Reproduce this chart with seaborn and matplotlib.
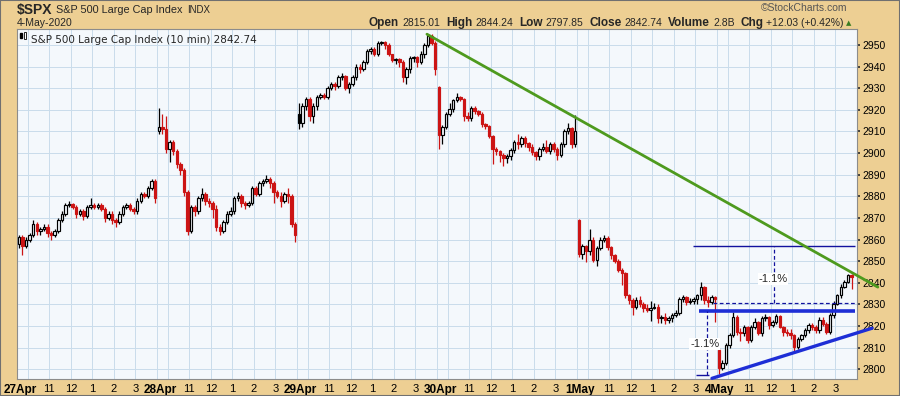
import numpy as np
import pandas as pd
import matplotlib
matplotlib.use("Agg")
import matplotlib.pyplot as plt
from matplotlib.patches import Rectangle
from matplotlib.transforms import ScaledTranslation
import seaborn as sns

# --- data (10 minute bars, 39 per session) ---
days = ["27Apr", "28Apr", "29Apr", "30Apr", "1May", "4May"]
hour_labels = ["11", "12", "1", "2", "3"]
day_open = [2858, 2910, 2918, 2930.5, 2869, 2809]

close_27 = [2861, 2857, 2860, 2862, 2867, 2864, 2865, 2866, 2863, 2862, 2864, 2869, 2872, 2876, 2876.5, 2875, 2872, 2873, 2871, 2875,
            2876, 2875, 2876, 2874, 2870, 2872, 2869, 2868, 2872, 2875, 2876, 2874, 2873, 2878, 2881, 2880, 2884, 2887, 2879]
high_27 = [2862, 2862, 2861, 2863, 2869, 2868, 2866, 2867, 2867, 2864, 2865, 2870, 2873, 2877, 2878, 2877, 2876, 2874, 2874, 2876,
           2879, 2877, 2877, 2877, 2875, 2873, 2873, 2870, 2873, 2876, 2877, 2877, 2875, 2879, 2882, 2882, 2885, 2888, 2888]
low_27 = [2856, 2853, 2856, 2859, 2861, 2862, 2862, 2864, 2861, 2860, 2861, 2863, 2868, 2871, 2875, 2874, 2870, 2871, 2869, 2870,
          2874, 2874, 2874, 2873, 2868, 2869, 2867, 2866, 2867, 2871, 2874, 2873, 2872, 2872, 2877, 2879, 2879, 2883, 2877]

close_28 = [2912, 2911, 2902, 2905, 2901, 2895, 2892, 2882, 2864, 2875, 2873, 2879, 2881, 2878, 2877, 2874, 2866, 2864, 2868, 2872,
            2873, 2879, 2880, 2877, 2876, 2877, 2884, 2881, 2886, 2887, 2888, 2886, 2882, 2880, 2878, 2881, 2880, 2867, 2862]
high_28 = [2921, 2918, 2917, 2906, 2906, 2902, 2896, 2893, 2883, 2876, 2876, 2880, 2884, 2882, 2879, 2878, 2876, 2867, 2869, 2873,
           2875, 2880, 2882, 2881, 2878, 2878, 2885, 2885, 2887, 2888, 2890, 2889, 2887, 2883, 2882, 2882, 2884, 2881, 2868]
low_28 = [2909, 2909, 2900, 2896, 2899, 2893, 2890, 2880, 2862, 2863, 2871, 2872, 2878, 2876, 2875, 2870, 2864, 2862, 2863, 2867,
          2871, 2872, 2878, 2875, 2874, 2875, 2876, 2880, 2880, 2885, 2886, 2884, 2877, 2879, 2875, 2877, 2877, 2866, 2859]

close_29 = [2914, 2922, 2925, 2917, 2922, 2926, 2927, 2926, 2930, 2932, 2931, 2935, 2935.5, 2930, 2932, 2935, 2940, 2939, 2942, 2947,
            2948, 2946, 2951, 2951.5, 2950, 2946, 2943, 2943.5, 2942, 2935, 2939, 2944, 2944.5, 2942, 2946, 2950, 2954, 2951, 2939]
high_29 = [2923, 2923, 2926, 2926, 2923, 2927, 2928, 2928, 2931, 2933, 2933, 2936, 2937, 2936, 2933, 2936, 2941, 2941, 2943, 2948,
           2949, 2949, 2952, 2952, 2952, 2951, 2946, 2944, 2944, 2943, 2940, 2945, 2945, 2945, 2947, 2951, 2955, 2955, 2952]
low_29 = [2911, 2912, 2920, 2915, 2914, 2920, 2925, 2925, 2925, 2929, 2929, 2930, 2934, 2929, 2928, 2931, 2934, 2937, 2938, 2941,
          2946, 2945, 2945, 2950, 2948, 2945, 2942, 2941, 2940, 2933, 2932, 2937, 2942, 2940, 2941, 2944, 2949, 2950, 2936]

close_30 = [2908.5, 2912, 2918, 2920.5, 2924.5, 2926, 2925, 2917, 2916, 2921, 2919.5, 2918, 2913.5, 2912.5, 2908, 2902, 2901, 2899, 2897.5, 2898.5,
            2901.5, 2905, 2904, 2907, 2904.5, 2903, 2900.5, 2898.5, 2902, 2903, 2901, 2904, 2902, 2899, 2904, 2910, 2911.5, 2904, 2910]
high_30 = [2931, 2913, 2919, 2923, 2925, 2928, 2926.5, 2925.5, 2919, 2922, 2922, 2920, 2919, 2914, 2913, 2908.5, 2903, 2901.5, 2900, 2899.5,
           2902.5, 2906, 2909, 2908, 2908, 2905, 2904, 2901, 2903, 2904.5, 2906, 2905, 2905, 2903, 2905, 2911, 2914, 2912, 2917.5]
low_30 = [2902, 2904, 2911, 2917, 2919, 2923.5, 2924, 2915, 2915, 2915, 2918, 2917, 2912, 2911, 2907, 2895, 2899, 2896, 2894, 2895.5,
          2897, 2900, 2902, 2903, 2903, 2901, 2899, 2897, 2897, 2901, 2900, 2899.5, 2900.5, 2897, 2898, 2903, 2909, 2902.5, 2903]

close_1 = [2853.5, 2857, 2854.5, 2860, 2850.5, 2856, 2859.7, 2860.5, 2856.6, 2852.8, 2850, 2846, 2844.5, 2834.3, 2832, 2829, 2832, 2830, 2828.5, 2827.5,
           2828.5, 2829, 2823.5, 2824, 2822.7, 2823.5, 2825, 2826, 2832.7, 2833.2, 2831, 2831.5, 2832.5, 2834.3, 2838, 2832, 2831, 2833.5, 2832.3]
high_1 = [2869.5, 2858, 2857.5, 2865, 2861, 2857, 2861, 2862, 2861.5, 2857, 2853.5, 2851, 2847, 2845, 2835, 2833, 2833.5, 2834, 2831, 2830,
          2831.5, 2830.5, 2830, 2825, 2826, 2824.5, 2826, 2827.5, 2833.5, 2834.5, 2834, 2833, 2833.5, 2835, 2840.5, 2838.5, 2834, 2834.5, 2834]
low_1 = [2852, 2851, 2849.5, 2853, 2849.5, 2848, 2855, 2859, 2855, 2851, 2849, 2845, 2839, 2833, 2830, 2825, 2828, 2829, 2826.5, 2826.5,
         2822.5, 2828, 2821.5, 2821.5, 2821, 2821.5, 2822, 2824, 2825, 2831, 2829.5, 2830, 2830, 2830, 2832, 2830, 2829, 2830, 2822]

close_4 = [2800.5, 2802.7, 2811, 2815.8, 2824.3, 2817.3, 2816.8, 2819.6, 2813.5, 2819.6, 2822, 2816.6, 2823.5, 2824, 2820.4, 2822, 2824.6, 2819.6, 2817.3, 2817,
           2815.8, 2810.4, 2814.2, 2815.8, 2818, 2820.4, 2819.5, 2818, 2823, 2821, 2817.3, 2825, 2830.4, 2834.3, 2838, 2840.5, 2843.6, 2842.74]
high_4 = [2810, 2804.5, 2812, 2817, 2826.5, 2825, 2819, 2820.5, 2820, 2820.5, 2823.5, 2822.5, 2824.5, 2825.5, 2824.5, 2823, 2825.5, 2825, 2820, 2818.5,
          2818.5, 2816.5, 2815, 2816.5, 2819, 2821.5, 2821.5, 2820.5, 2824, 2824, 2822, 2826, 2831.5, 2835, 2839.5, 2841.5, 2844.24, 2844]
low_4 = [2797.85, 2799.5, 2802, 2810, 2815, 2816, 2813, 2815.5, 2812, 2812.5, 2818.5, 2816, 2815.5, 2822.5, 2818.5, 2819.5, 2821, 2819, 2815.5, 2815.5,
         2814, 2808.5, 2809.5, 2813, 2815, 2817, 2818, 2817, 2817, 2820, 2816.5, 2816.5, 2823.5, 2829.5, 2833, 2837.5, 2840, 2837]

closes = [close_27, close_28, close_29, close_30, close_1, close_4]
highs = [high_27, high_28, high_29, high_30, high_1, high_4]
lows = [low_27, low_28, low_29, low_30, low_1, low_4]

# trend lines and measured move (bar index, price)
green_x, green_y = [113.7, 239.3], [2955, 2838]
support_x, support_y = [193.1, 237.7], [2795.8, 2819]
target_level, neck_level, base_level, mid_level = 2857, 2827, 2797.2, 2830.8
pct_labels = ["-1.1%", "-1.1%"]

BPD = 39
RED = "#CC1414"
TAN = "#EDCF93"
BG = "#F4F8FC"
GRID = "#C9DCEB"

rows = []
for d in range(len(days)):
    c = closes[d]
    o = [day_open[d]] + c[:-1]
    for k in range(len(c)):
        rows.append(dict(x=d * BPD + k, open=o[k], high=highs[d][k], low=lows[d][k], close=c[k]))
df = pd.DataFrame(rows)
df["prev"] = df["close"].shift(1).fillna(df["open"])

sns.set_theme(style="white", rc={"axes.facecolor": BG, "figure.facecolor": TAN})
plt.rcParams["font.family"] = ["Liberation Sans", "DejaVu Sans"]

fig = plt.figure(figsize=(9, 3.96), dpi=100, facecolor=TAN)
ax = fig.add_axes([17 / 900, 1 - 379 / 396, 840 / 900, 350 / 396])
ax.set_facecolor(BG)
renderer = fig.canvas.get_renderer()


def px(x, y):
    return x / 900, 1 - y / 396


def text_run(x, y, pieces, gap):
    # place text pieces one after another, starting at pixel x
    for txt, kw in pieces:
        t = fig.text(*px(x, y), txt, va="center", ha="left", **kw)
        x += t.get_window_extent(renderer).width + gap
    return x


# candles
for r in df.itertuples():
    col = RED if r.close < r.prev else "black"
    ax.vlines(r.x, r.low, r.high, color=col, lw=0.9, zorder=3)
    lo, hi = min(r.open, r.close), max(r.open, r.close)
    face = BG if r.close > r.open else col
    ax.bar(r.x, max(hi - lo, 0.35), bottom=lo, width=0.68, color=face,
           edgecolor=col, linewidth=0.85, zorder=4)

# trend lines
sns.lineplot(x=green_x, y=green_y, color="#4E9A1E", lw=2, ax=ax, clip_on=False, zorder=6)
sns.lineplot(x=support_x, y=support_y, color="#1E2ED6", lw=2.4, ax=ax, clip_on=False, zorder=6)

# measured move annotations
NAVY = "#12129E"
ax.hlines(target_level, 187.8, 232.9, color=NAVY, lw=1, zorder=5)
ax.hlines(neck_level, 189.5, 232.9, color="#1E2ED6", lw=2.6, zorder=5)
ax.hlines(base_level, 188.6, 192.2, color=NAVY, lw=1, zorder=5)
ax.hlines(mid_level, 193.4, 232.9, color=NAVY, lw=0.9, ls=(0, (3, 2)), zorder=5)
ax.vlines(210.4, mid_level, target_level, color=NAVY, lw=0.9, ls=(0, (3, 2)), zorder=5)
ax.vlines(191.7, base_level, neck_level, color=NAVY, lw=0.9, ls=(0, (3, 2)), zorder=5)
ax.text(210.1, 2841.8, pct_labels[0], fontsize=8, ha="center", va="center", zorder=7,
        bbox=dict(facecolor="white", edgecolor="none", pad=0.6))
ax.text(191.1, 2811.6, pct_labels[1], fontsize=8, ha="center", va="center", zorder=7,
        bbox=dict(facecolor="white", edgecolor="none", pad=0.6))

# axes, grid, ticks
ax.set_xlim(-0.5, 233.5)
ax.set_ylim(2795.5, 2957.4)
ax.yaxis.tick_right()
ax.set_yticks(range(2800, 2951, 10))
ax.tick_params(axis="y", labelsize=7.5, length=2, pad=2, colors="#333333", labelcolor="black")

major_pos, major_lab = [], []
for d, name in enumerate(days):
    major_pos.append(d * BPD - 0.5)
    major_lab.append(name)
    for h, lab in enumerate(hour_labels):
        major_pos.append(d * BPD + 8.5 + 6 * h)
        major_lab.append(lab)
ax.set_xticks(major_pos, major_lab)
ax.set_xticks([d * BPD + 2.5 for d in range(len(days))], minor=True)
ax.tick_params(axis="x", which="both", length=2, pad=1.5, labelsize=8, colors="#333333", labelcolor="black")
shift = ScaledTranslation(3 / 100, 0, fig.dpi_scale_trans)
for t in ax.get_xticklabels():
    t.set_family(["Liberation Sans Narrow", "Liberation Sans", "DejaVu Sans"])
    if t.get_text() in days:
        t.set_fontweight("bold")
        t.set_fontsize(8.5)
        t.set_transform(t.get_transform() + shift)

ax.grid(True, which="both", color=GRID, lw=0.7, zorder=0)
ax.set_axisbelow(True)
for s in ax.spines.values():
    s.set_color("#8C8C8C")
    s.set_linewidth(0.8)

# legend line in the plot
ax.text(0.017, 0.982, "S&P 500 Large Cap Index (10 min) 2842.74", transform=ax.transAxes,
        fontsize=7.5, family="DejaVu Sans", ha="left", va="top", zorder=8)
fig.add_artist(Rectangle(px(20, 38), 2 / 900, 5 / 396, color="black"))
fig.add_artist(Rectangle(px(24, 39), 2 / 900, 7 / 396, facecolor="white", edgecolor="black", lw=0.6))

# header
text_run(17, 10, [("$SPX", dict(fontsize=10, fontweight="bold")),
                  ("S&P 500 Large Cap Index", dict(fontsize=7.8)),
                  ("INDX", dict(fontsize=7))], gap=4)
fig.text(*px(17, 23), "4-May-2020", fontsize=7.5, va="center", ha="left")
fig.text(*px(847, 8), "\u00a9StockCharts.com", fontsize=7.5, color="#555555", va="center", ha="right")

pieces = [("Open", "bold"), ("2815.01", "normal"), ("High", "bold"), ("2844.24", "normal"),
          ("Low", "bold"), ("2797.85", "normal"), ("Close", "bold"), ("2842.74", "normal"),
          ("Volume", "bold"), ("2.8B", "normal"), ("Chg", "bold"), ("+12.03 (+0.42%)", "normal")]
texts = []
for txt, w in pieces:
    t = fig.text(0, 1 - 23 / 396, txt, fontsize=8.5 if w == "bold" else 7.5, fontweight=w, va="center", ha="left")
    texts.append((t, t.get_window_extent(renderer).width, w))
gaps = [3 if w == "bold" else 6 for _, _, w in texts]
total = sum(wd for _, wd, _ in texts) + sum(gaps[:-1])
x = 844 - total
for (t, wd, w), g in zip(texts, gaps):
    t.set_x(x / 900)
    x += wd + g
fig.text(*px(846, 23), "\u25b2", fontsize=5, color="#3A7D22", va="center", ha="left", family="DejaVu Sans")

fig.add_artist(Rectangle((0, 0), 1, 1, transform=fig.transFigure, fill=False, edgecolor="#707070", lw=1.5))

fig.savefig("out.png", dpi=100, facecolor=TAN)
